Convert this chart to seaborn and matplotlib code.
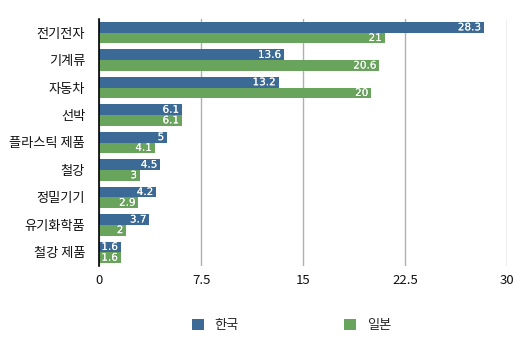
import matplotlib
matplotlib.use("Agg")
import matplotlib.pyplot as plt
import matplotlib.patheffects as pe
from matplotlib.patches import Patch
import seaborn as sns
import pandas as pd

categories = ["전기전자", "기계류", "자동차", "선박", "플라스틱 제품", "철강", "정밀기기", "유기화학품", "철강 제품"]
korea = [28.3, 13.6, 13.2, 6.1, 5, 4.5, 4.2, 3.7, 1.6]
japan = [21, 20.6, 20, 6.1, 4.1, 3, 2.9, 2, 1.6]
series = ["한국", "일본"]
colors = ["#3b6a96", "#69a45d"]
xticks = [0, 7.5, 15, 22.5, 30]

sns.set_theme(style="white")
plt.rcParams["font.family"] = ["Noto Sans CJK KR", "DejaVu Sans"]

df = pd.DataFrame({
    "category": categories * 2,
    "value": korea + japan,
    "series": [series[0]] * len(categories) + [series[1]] * len(categories),
})

fig = plt.figure(figsize=(5.31, 3.45), dpi=100)
ax = fig.add_axes([99 / 531, 1 - 266 / 345, (507 - 99) / 531, (266 - 19) / 345])

sns.barplot(data=df, x="value", y="category", hue="series", order=categories,
            hue_order=series, palette=colors, orient="h", width=0.78,
            saturation=1, legend=False, ax=ax, edgecolor="none")

ax.set_xlim(0, 30)
ax.set_xticks(xticks)
ax.set_xticklabels(["0", "7.5", "15", "22.5", "30"])
ax.set_xlabel("")
ax.set_ylabel("")
ax.tick_params(axis="x", length=0, labelsize=9.5, pad=6, labelcolor="#111111")
ax.tick_params(axis="y", length=0, labelsize=9.5, pad=10, labelcolor="#111111")
ax.grid(axis="x", color="#b0b0b0", linewidth=1)
ax.set_axisbelow(True)
for s in ["top", "right", "bottom"]:
    ax.spines[s].set_visible(False)
ax.spines["left"].set_color("black")
ax.spines["left"].set_linewidth(1.2)
ax.spines["left"].set_zorder(5)

def fmt(v):
    return f"{v:g}"

for cont in ax.containers:
    texts = ax.bar_label(cont, labels=[fmt(b.get_width()) for b in cont],
                         label_type="edge", padding=-2, color="white", fontsize=7.5,
                         family=["DejaVu Sans"])
    for t in texts:
        t.set_horizontalalignment("right")
        t.set_path_effects([pe.withSimplePatchShadow(offset=(0.5, -0.5), shadow_rgbFace="#666666", alpha=0.3), pe.Normal()])

handles = [Patch(facecolor=c, edgecolor="none") for c in colors]
fig.legend(handles, series, loc="center", bbox_to_anchor=(0.549, 0.056), ncol=2,
           frameon=False, fontsize=9.5, handlelength=0.9, handleheight=0.9,
           columnspacing=8.0, handletextpad=0.8)

fig.savefig("out.png", dpi=100)
